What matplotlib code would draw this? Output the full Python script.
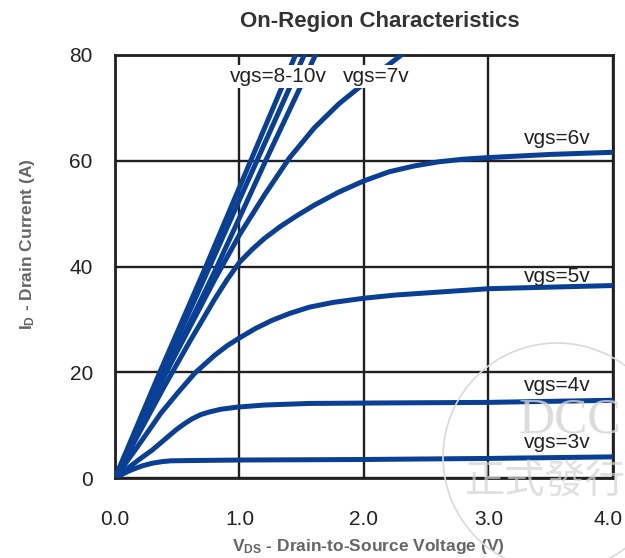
import matplotlib
matplotlib.use("Agg")
import matplotlib.pyplot as plt
from matplotlib.patches import Circle
from matplotlib.transforms import ScaledTranslation

plt.rcParams['font.family'] = ['Liberation Sans', 'DejaVu Sans']

# Curves (V_DS in V, I_D in A)
vgs3_x = [0, 0.05, 0.1, 0.15, 0.22, 0.3, 0.38, 0.45, 0.6, 1.0, 2.0, 3.0, 4.0]
vgs3_y = [0, 0.6, 1.2, 1.7, 2.3, 2.8, 3.1, 3.25, 3.3, 3.4, 3.5, 3.7, 4.0]

vgs4_x = [0, 0.1, 0.2, 0.3, 0.4, 0.49, 0.56, 0.62, 0.69, 0.76, 0.85, 0.98, 1.2, 1.56, 2.2, 3.0, 4.0]
vgs4_y = [0, 1.8, 3.6, 5.3, 7.3, 9.1, 10.3, 11.2, 12.0, 12.5, 13.0, 13.4, 13.8, 14.1, 14.2, 14.3, 14.7]

vgs5_x = [0, 0.18, 0.37, 0.5, 0.64, 0.8, 0.9, 1.0, 1.13, 1.26, 1.4, 1.56, 1.75, 2.0, 2.25, 2.5, 3.0, 3.5, 4.0]
vgs5_y = [0, 5.9, 12.3, 16.0, 19.8, 23.2, 25.0, 26.5, 28.3, 29.8, 31.1, 32.3, 33.2, 34.0, 34.6, 35.0, 35.8, 36.1, 36.4]

vgs6_x = [0, 0.2, 0.4, 0.6, 0.8, 0.9, 1.0, 1.1, 1.2, 1.33, 1.46, 1.6, 1.8, 2.0, 2.2, 2.4, 2.6, 2.8, 3.0, 3.5, 4.0]
vgs6_y = [0, 8.8, 17.5, 25.8, 33.8, 37.5, 40.8, 43.2, 45.3, 47.6, 49.6, 51.6, 54.1, 56.2, 57.9, 59.0, 59.8, 60.3, 60.6, 61.2, 61.6]

vgs7_x = [0, 0.2, 0.4, 0.6, 0.8, 1.0, 1.2, 1.4, 1.6, 1.8, 2.0, 2.15, 2.3, 2.45]
vgs7_y = [0, 10.0, 19.5, 28.5, 37.5, 46.0, 53.5, 60.5, 66.2, 70.8, 74.6, 77.3, 80.0, 82.5]

vgs8_x = [0, 0.41, 0.82, 1.21, 1.61, 1.7]
vgs8_y = [0, 20, 40, 60, 80, 84]
vgs9_x = [0, 0.38, 0.76, 1.14, 1.52, 1.6]
vgs9_y = [0, 20, 40, 60, 80, 84]
vgs10_x = [0, 0.36, 0.73, 1.09, 1.45, 1.52]
vgs10_y = [0, 20, 40, 60, 80, 84]

x_ticks = [0, 1, 2, 3, 4]
x_ticklabels = ['0.0', '1.0', '2.0', '3.0', '4.0']
y_ticks = [0, 20, 40, 60, 80]

blue = '#0a3f96'
dark = '#231f20'

fig = plt.figure(figsize=(6.25, 5.58), dpi=100)
ax = fig.add_axes([115 / 625, 80 / 558, 498 / 625, 423 / 558])

for xs, ys in [(vgs3_x, vgs3_y), (vgs4_x, vgs4_y), (vgs5_x, vgs5_y),
               (vgs6_x, vgs6_y), (vgs7_x, vgs7_y), (vgs8_x, vgs8_y),
               (vgs9_x, vgs9_y), (vgs10_x, vgs10_y)]:
    ax.plot(xs, ys, color=blue, lw=3.6, solid_joinstyle='round', zorder=3)

ax.set_xlim(0, 4)
ax.set_ylim(0, 80)
ax.set_xticks(x_ticks)
ax.set_xticklabels(x_ticklabels)
ax.set_yticks(y_ticks)
ax.tick_params(length=0, labelsize=15, colors='#222222')
ax.tick_params(axis='x', pad=23)
ax.tick_params(axis='y', pad=16)
ax.grid(True, color=dark, lw=1.7)
for s in ax.spines.values():
    s.set_color(dark)
    s.set_linewidth(2.0)

# last x label sits a little inside the edge
last = ax.get_xticklabels()[-1]
last.set_transform(last.get_transform() + ScaledTranslation(-5 / 100, 0, fig.dpi_scale_trans))

# curve labels
box = dict(facecolor='white', edgecolor='none', pad=1.5)
ax.text(1.31, 76, 'vgs=8-10v', fontsize=15, ha='center', va='center', bbox=box, zorder=4, color='#222222')
ax.text(2.1, 76, 'vgs=7v', fontsize=15, ha='center', va='center', bbox=box, zorder=4, color='#222222')
for lab, yy in [('vgs=6v', 64.3), ('vgs=5v', 38.1), ('vgs=4v', 17.5), ('vgs=3v', 6.8)]:
    ax.text(3.55, yy, lab, fontsize=15, ha='center', va='center', color='#222222', zorder=4)

fig.text(380 / 625, 1 - 21 / 558, 'On-Region Characteristics', fontsize=16,
         fontweight='bold', ha='center', va='center', color='#333333')
fig.text(368 / 625, 1 - 546 / 558, r'V$\mathregular{_{DS}}$ - Drain-to-Source Voltage (V)',
         fontsize=12.5, fontweight='bold', ha='center', va='center', color='#666666')
fig.text(28 / 625, 1 - 244 / 558, r'I$\mathregular{_{D}}$ - Drain Current (A)',
         fontsize=12.5, fontweight='bold', ha='center', va='center', color='#666666',
         rotation=90)

# faint watermark in the lower right corner
fig.add_artist(Circle((5.57, 1.01), 1.14, transform=fig.dpi_scale_trans,
                      fill=False, edgecolor='#d9d9d9', lw=1.2, zorder=5))
fig.text(570 / 625, 1 - 420 / 558, 'DCC', fontsize=36, family='Liberation Serif',
         ha='center', va='center', color='#d4d4d4', alpha=0.8, zorder=5)
fig.text(465 / 625, 1 - 482 / 558, '正式發行', fontsize=29,
         family=['Noto Sans CJK TC', 'DejaVu Sans'], ha='left', va='center',
         color='#d4d4d4', alpha=0.7, zorder=5)

fig.savefig('out.png', dpi=100)
